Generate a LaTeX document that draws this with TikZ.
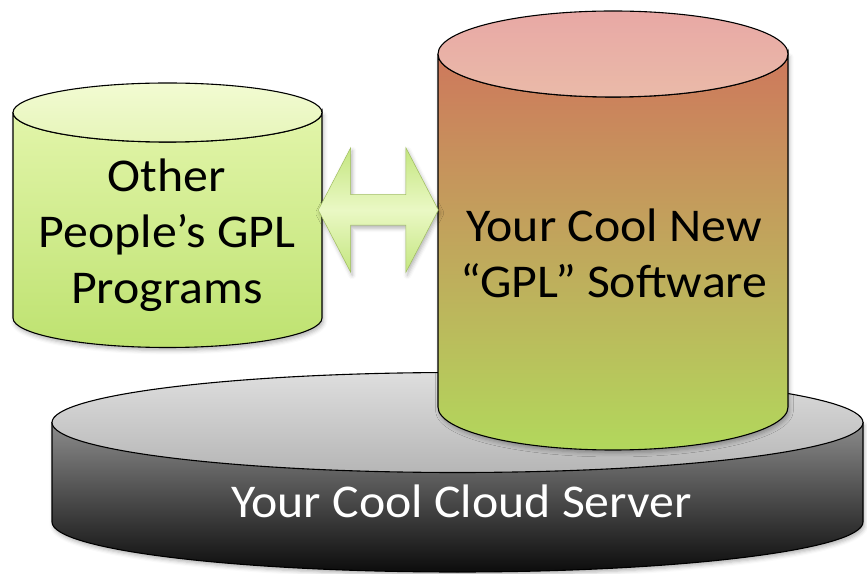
\documentclass[tikz,border=0pt]{standalone}
\usepackage{fontspec}
\setmainfont{Carlito}[FakeStretch=1.06]
\usetikzlibrary{positioning,shapes.arrows,shadows.blur}

\definecolor{diskgray}{RGB}{140,140,140}
\definecolor{diskblack}{RGB}{12,12,12}
\definecolor{disktop}{RGB}{222,222,222}
\definecolor{diskfront}{RGB}{182,182,182}
\definecolor{gplred}{RGB}{206,120,92}
\definecolor{gplmid}{RGB}{198,168,100}
\definecolor{gplgreen}{RGB}{178,216,92}
\definecolor{gplcap}{RGB}{232,168,165}
\definecolor{gplcapfront}{RGB}{234,186,168}
\definecolor{othertop}{RGB}{226,245,170}
\definecolor{otherbot}{RGB}{190,226,112}
\definecolor{othercap}{RGB}{242,251,210}
\definecolor{othercapfront}{RGB}{230,245,185}
\definecolor{linkgreen}{RGB}{196,230,128}
\definecolor{linklight}{RGB}{234,248,196}
\definecolor{linkedge}{RGB}{160,190,95}

\tikzset{
  rim/.style={draw=black, line width=1.1pt},
  soft/.style={blur shadow={shadow xshift=1.5pt, shadow yshift=-3pt,
      shadow blur radius=4pt, shadow opacity=30}},
  bigtext/.style={font=\fontsize{47}{56}\selectfont, align=center, inner sep=0pt},
  linkarrow/.style={shape=double arrow, draw=linkedge, line width=0.5pt,
      top color=linkgreen, bottom color=linkgreen, middle color=linklight,
      inner xsep=0pt, inner ysep=15pt, minimum height=120pt, minimum width=124pt,
      double arrow head extend=47pt, double arrow tip angle=125,
      double arrow head indent=0pt, soft}
}

\begin{document}
\begin{tikzpicture}[x=1pt,y=1pt]
  \useasboundingbox (0,0) rectangle (867,573);

  % server disk
  \pgfmathsetmacro{\sx}{457.5}
  \pgfmathsetmacro{\srx}{405.5}
  \pgfmathsetmacro{\sry}{50}
  \pgfmathsetmacro{\st}{150.5}
  \pgfmathsetmacro{\sb}{51}
  \draw[rim, soft, top color=diskgray, bottom color=diskblack]
    (\sx-\srx, \st) -- (\sx-\srx, \sb)
    arc[start angle=180, end angle=360, x radius=\srx pt, y radius=\sry pt]
    -- (\sx+\srx, \st) -- cycle;
  \draw[rim, top color=disktop, bottom color=diskfront]
    (\sx, \st) ellipse[x radius=\srx pt, y radius=\sry pt];
  \node[bigtext, text=white, anchor=base] (server) at (461.5, 56) {Your Cool Cloud Server};

  % new gpl software
  \pgfmathsetmacro{\rx}{613}
  \pgfmathsetmacro{\rrx}{175}
  \pgfmathsetmacro{\rry}{43}
  \pgfmathsetmacro{\rt}{519}
  \pgfmathsetmacro{\rb}{166}
  \draw[rim, soft, top color=gplred, middle color=gplmid, bottom color=gplgreen]
    (\rx-\rrx, \rt) -- (\rx-\rrx, \rb)
    arc[start angle=180, end angle=360, x radius=\rrx pt, y radius=\rry pt]
    -- (\rx+\rrx, \rt)
    arc[start angle=0, end angle=-180, x radius=\rrx pt, y radius=\rry pt];
  \draw[rim, top color=gplcap, bottom color=gplcapfront]
    (\rx, \rt) ellipse[x radius=\rrx pt, y radius=\rry pt];
  \node[bigtext] (mine) at (614, 319.5) {Your Cool New\\“GPL” Software};

  % other programs
  \pgfmathsetmacro{\lx}{167.5}
  \pgfmathsetmacro{\lrx}{154.5}
  \pgfmathsetmacro{\lry}{29.5}
  \pgfmathsetmacro{\lt}{460.5}
  \pgfmathsetmacro{\lb}{255}
  \draw[rim, soft, top color=othertop, bottom color=otherbot]
    (\lx-\lrx, \lt) -- (\lx-\lrx, \lb)
    arc[start angle=180, end angle=360, x radius=\lrx pt, y radius=\lry pt]
    -- (\lx+\lrx, \lt)
    arc[start angle=0, end angle=-180, x radius=\lrx pt, y radius=\lry pt];
  \draw[rim, top color=othercap, bottom color=othercapfront]
    (\lx, \lt) ellipse[x radius=\lrx pt, y radius=\lry pt];
  \node[bigtext] (other) at (167, 338) {Other\\People’s GPL\\Programs};

  \coordinate (gap) at (\lx+\lrx-4, 363);
  \node[linkarrow, right=0pt of gap] (link) {};
\end{tikzpicture}
\end{document}
